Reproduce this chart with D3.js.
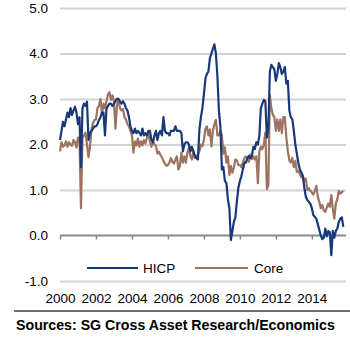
<!DOCTYPE html>
<html>
<head>
<meta charset="utf-8">
<script src="https://cdn.jsdelivr.net/npm/d3@7"></script>
<style>
  html, body { margin: 0; padding: 0; background: #ffffff; }
  svg { display: block; }
  text { font-family: "Liberation Sans", Arial, Helvetica, sans-serif; }
</style>
</head>
<body>
<svg id="chart" width="350" height="338"></svg>
<script>
// ---- data (monthly, Jan 2000 .. Oct 2015) ----
const startYear = 2000;
const hicp = [
  2.1, 2.3, 2.5, 2.4, 2.55, 2.7, 2.6, 2.8, 2.65, 2.75, 2.83, 2.7,
  2.45, 2.6, 1.5, 2.8, 2.9, 2.85, 2.94, 2.1, 2.25, 2.3, 2.35, 2.4,
  2.4, 2.45, 2.54, 2.6, 2.7, 2.7, 2.2, 2.78, 2.85, 2.9, 2.9, 2.85,
  2.9, 2.95, 3.01, 3.0, 2.95, 2.9, 2.95, 2.9, 2.8, 2.75, 2.6, 2.4,
  2.3, 2.25, 2.35, 2.25, 2.3, 2.25, 2.2, 2.35, 2.2, 2.25, 2.2, 2.3,
  2.3, 2.1, 2.05, 2.2, 2.3, 2.1, 2.25, 2.3, 2.2, 2.6, 2.3, 2.25,
  2.25, 2.2, 2.3, 2.3, 2.3, 2.4, 2.3, 2.3, 2.3, 2.25, 1.85, 2.0,
  2.05, 2.05, 2.0, 1.85, 1.95, 1.85, 1.75, 1.7, 1.67, 2.33, 2.6, 2.8,
  3.1, 3.45, 3.55, 3.6, 3.9, 4.0, 4.1, 4.2, 4.0, 3.5, 2.75, 2.4,
  1.45, 1.5, 1.2, 1.15, 0.8, 0.6, -0.1, 0.1, 0.3, 0.4, 0.75, 1.05,
  1.2, 1.3, 1.45, 1.6, 1.6, 1.7, 1.75, 1.7, 1.75, 1.95, 1.9, 2.05,
  2.0, 2.2, 2.8, 2.9, 2.98, 2.95, 2.15, 2.35, 3.6, 3.75, 3.7, 3.65,
  3.4, 3.55, 3.79, 3.7, 3.55, 3.6, 3.7, 3.34, 3.4, 2.75, 2.6, 2.55,
  2.3, 2.0, 1.8, 1.6, 1.45, 1.39, 1.31, 1.05, 0.85, 0.78, 0.74, 0.7,
  0.6, 0.45, 0.41, 0.37, 0.25, 0.12, 0.0, -0.08, -0.05, 0.15, -0.02, 0.1,
  0.07, -0.43, 0.1, -0.05, 0.1, 0.15, 0.3, 0.37, 0.4, 0.19
];
const core = [
  1.85, 2.05, 1.95, 1.98, 2.07, 1.95, 2.05, 2.0, 1.97, 2.1, 2.05, 1.93,
  2.15, 2.1, 0.6, 2.15, 2.2, 2.26, 2.0, 1.72, 1.95, 2.33, 2.47, 2.54,
  2.55, 2.8, 2.85, 3.0, 2.65, 2.9, 2.8, 2.95, 3.1, 3.15, 2.98, 3.08,
  2.95, 2.35, 2.85, 3.0, 2.8, 2.75, 2.78, 2.6, 2.55, 2.45, 2.4, 2.3,
  2.2, 1.82, 2.07, 1.98, 2.13, 1.95, 2.07, 1.98, 2.1, 2.02, 2.15, 2.22,
  2.07, 1.95, 2.07, 2.0, 1.97, 1.8, 1.84, 1.77, 1.72, 1.64, 1.58, 1.53,
  1.55, 1.6, 1.7, 1.62, 1.58, 1.67, 1.74, 1.45, 1.53, 1.82, 1.6, 1.74,
  1.6, 1.82, 1.93, 1.74, 1.67, 1.86, 1.7, 1.74, 1.78, 1.85, 2.0, 1.96,
  2.1, 2.35, 2.4, 2.2, 2.33, 1.96, 2.3, 2.45, 2.54, 2.2, 2.2, 2.3,
  2.2, 1.8, 1.94, 1.6, 1.74, 1.33, 1.53, 1.38, 1.5, 1.67, 1.65, 1.55,
  1.55, 1.5, 1.6, 1.7, 1.74, 1.7, 1.62, 1.78, 1.68, 1.74, 1.67, 1.74,
  1.15, 1.85, 1.95, 1.9, 2.0, 2.26, 1.02, 1.1, 3.09, 2.8, 2.65, 2.6,
  2.3, 2.55, 2.3, 2.55, 2.25, 2.6, 2.6, 2.15, 1.85, 1.65, 1.6, 1.7,
  1.5, 1.64, 1.4, 1.42, 1.35, 1.28, 1.31, 1.2, 1.25, 1.0, 1.04, 0.98,
  0.95, 0.9, 0.98, 1.09, 0.85, 0.74, 0.6, 0.67, 0.55, 0.52, 0.62, 0.7,
  0.63, 0.89, 0.59, 0.37, 0.7, 0.8, 0.98, 0.92, 0.95, 0.98
];
const seriesNames = ["HICP", "Core"];
const yTicks = [5, 4, 3, 2, 1, 0, -1];
const xTicks = [2000, 2002, 2004, 2006, 2008, 2010, 2012, 2014];
const sourceText = "Sources: SG Cross Asset Research/Economics";

// ---- layout ----
const svg = d3.select("#chart");
const plotLeft = 60, plotRight = 346, plotTop = 8, plotBottom = 281;
const blue = "#17397a", brown = "#9c7361";

const x = d3.scaleLinear().domain([2000, 2015.9]).range([plotLeft, plotRight]);
const y = d3.scaleLinear().domain([-1, 5]).range([plotBottom, plotTop]);

// gridlines + y labels
const yAxis = d3.axisLeft(y)
  .tickValues(yTicks)
  .tickFormat(d => d.toFixed(1))
  .tickSize(-(plotRight - plotLeft))
  .tickPadding(12);
const gy = svg.append("g").attr("transform", `translate(${plotLeft},0)`).call(yAxis);
gy.select(".domain").remove();
gy.selectAll(".tick line")
  .attr("stroke", d => d === 0 ? "none" : "#d3d3d3")
  .attr("stroke-width", 2);
gy.selectAll(".tick text")
  .attr("fill", "#000")
  .style("font-size", "13.5px");

// zero axis with ticks
const xAxis0 = d3.axisBottom(x).tickValues(xTicks).tickSize(4).tickFormat("");
const g0 = svg.append("g").attr("transform", `translate(0,${y(0)})`).call(xAxis0);
g0.select(".domain").attr("stroke", "#8a8a8a").attr("stroke-width", 2)
  .attr("d", `M${plotLeft},0H${plotRight}`);
g0.selectAll(".tick line").attr("stroke", "#8a8a8a").attr("stroke-width", 1.5);

// x labels (below the -1 gridline)
const xAxisL = d3.axisBottom(x).tickValues(xTicks).tickSize(0).tickPadding(12).tickFormat(d3.format("d"));
const gl = svg.append("g").attr("transform", `translate(0,${y(-1)})`).call(xAxisL);
gl.select(".domain").remove();
gl.selectAll(".tick text").attr("fill", "#000").style("font-size", "13.5px");

// lines
const t = i => startYear + i / 12;
const line = d3.line().x((d, i) => x(t(i))).y(d => y(d));
svg.append("path").datum(core).attr("d", line)
  .attr("fill", "none").attr("stroke", brown).attr("stroke-width", 2.2).attr("stroke-linejoin", "round");
svg.append("path").datum(hicp).attr("d", line)
  .attr("fill", "none").attr("stroke", blue).attr("stroke-width", 2.2).attr("stroke-linejoin", "round");

// legend
const legend = [
  { name: seriesNames[0], color: blue, x0: 87, x1: 138, tx: 143 },
  { name: seriesNames[1], color: brown, x0: 195, x1: 248, tx: 254 }
];
const ly = 268;
legend.forEach(l => {
  svg.append("line").attr("x1", l.x0).attr("x2", l.x1).attr("y1", ly).attr("y2", ly)
    .attr("stroke", l.color).attr("stroke-width", 2.2);
  svg.append("text").attr("x", l.tx).attr("y", ly + 4.8).text(l.name)
    .style("font-size", "13.5px").attr("fill", "#000");
});

// separator + source
svg.append("line").attr("x1", 14).attr("x2", 350).attr("y1", 311).attr("y2", 311)
  .attr("stroke", "#707070").attr("stroke-width", 2);
svg.append("text").attr("x", 16).attr("y", 330).text(sourceText)
  .style("font-size", "14.2px").style("font-weight", "bold").attr("fill", "#000");
</script>
</body>
</html>
